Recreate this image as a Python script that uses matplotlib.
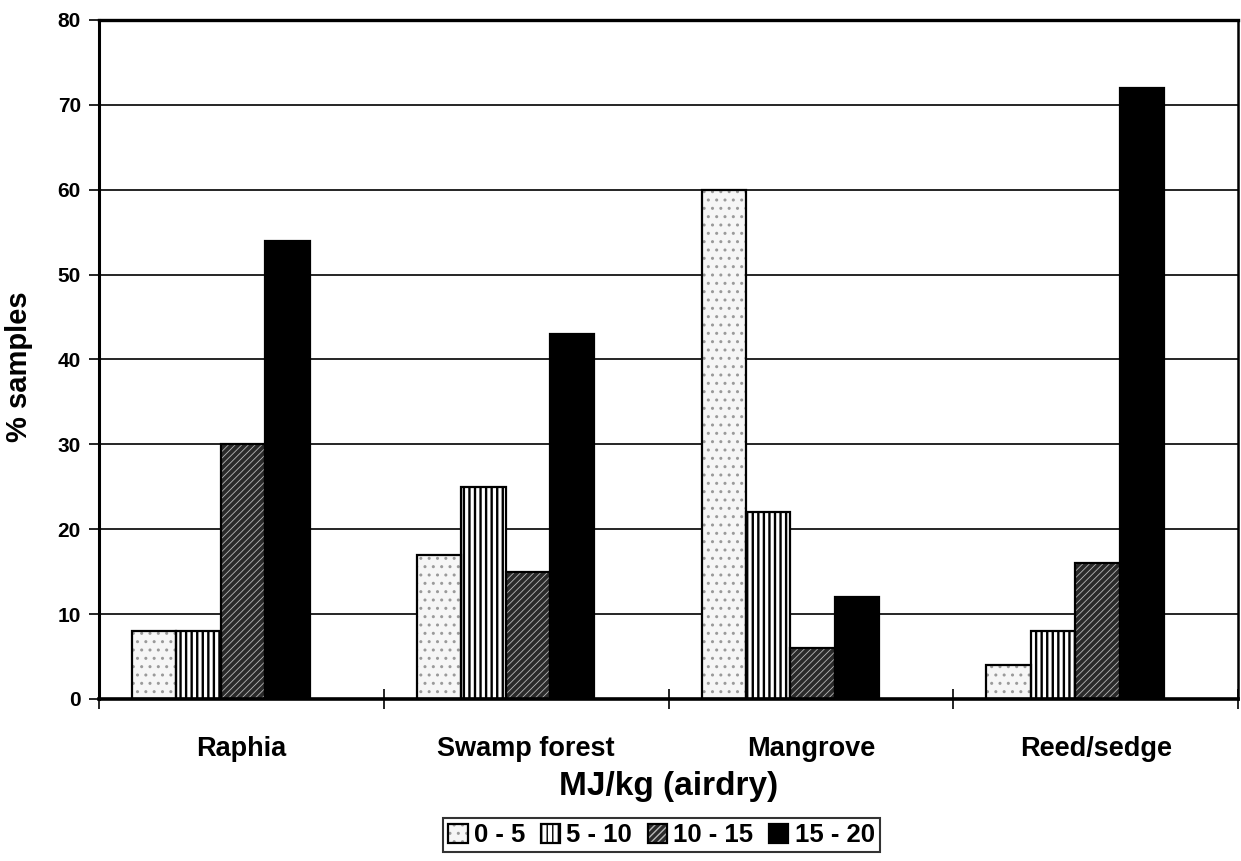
import matplotlib
matplotlib.use("Agg")
import matplotlib.pyplot as plt
import numpy as np

plt.rcParams['font.family'] = ['Liberation Sans', 'DejaVu Sans']
plt.rcParams['font.weight'] = 'bold'

categories = ['Raphia', 'Swamp forest', 'Mangrove', 'Reed/sedge']
series_names = ['0 - 5', '5 - 10', '10 - 15', '15 - 20']
s0_5 = [8, 17, 60, 4]
s5_10 = [8, 25, 22, 8]
s10_15 = [30, 15, 6, 16]
s15_20 = [54, 43, 12, 72]
yticks = [0, 10, 20, 30, 40, 50, 60, 70, 80]

# fill, hatch colour, hatch pattern, hatch line width
styles = [
    ('#f6f6f6', '#9a9a9a', '..', 1.0),
    ('white', 'black', '|||', 1.7),
    ('#2a2a2a', '#b8b8b8', '/////', 0.6),
    ('black', 'black', '', 1.0),
]

fig = plt.figure(figsize=(12.41, 8.61), dpi=100)
ax = fig.add_axes([0.0798, 0.1882, 0.9178, 0.7886])

x = np.arange(len(categories))
width = 0.156
start = -0.384

handles = []
for j, vals in enumerate([s0_5, s5_10, s10_15, s15_20]):
    face, hcol, hatch, hlw = styles[j]
    pos = x + start + width * (j + 0.5)
    with plt.rc_context({'hatch.linewidth': hlw}):
        b1 = ax.bar(pos, vals, width, color=face, edgecolor=hcol, hatch=hatch,
                    linewidth=0, zorder=2)
    b2 = ax.bar(pos, vals, width, fill=False, edgecolor='black', linewidth=1.6, zorder=3)
    handles.append((b1, b2))

ax.set_xlim(-0.5, 3.5)
ax.set_ylim(0, 80)
ax.set_yticks(yticks)
ax.yaxis.grid(True, color='black', linewidth=1.2)
ax.set_axisbelow(True)

ax.set_xticks(x)
ax.set_xticklabels(categories, fontsize=19.5, fontweight='bold')
ax.set_xticks(np.arange(-0.5, 4.0, 1.0), minor=True)
ax.tick_params(axis='x', which='major', length=0, pad=27)
ax.tick_params(axis='x', which='minor', length=14, direction='inout', width=1.2)
ax.tick_params(axis='y', length=7, width=1.2, labelsize=15, pad=6)
for lab in ax.get_yticklabels():
    lab.set_fontweight('bold')

ax.spines['left'].set_linewidth(2.2)
ax.spines['bottom'].set_linewidth(2.6)
ax.spines['top'].set_linewidth(2.4)
ax.spines['right'].set_linewidth(1.8)

ax.set_xlabel('MJ/kg (airdry)', fontsize=24, fontweight='bold')
ax.xaxis.set_label_coords(0.5, -0.106)
ax.set_ylabel('% samples', fontsize=21, fontweight='bold')
ax.yaxis.set_label_coords(-0.058, 0.49)

leg = fig.legend(handles, series_names, loc='center', bbox_to_anchor=(0.533, 0.030),
                 ncol=4, prop={'weight': 'bold', 'size': 18.5},
                 frameon=True, fancybox=False, edgecolor='black',
                 handlelength=0.75, handleheight=0.75, handletextpad=0.25,
                 columnspacing=0.6, borderpad=0.2, borderaxespad=0)
leg.get_frame().set_linewidth(1.5)

fig.savefig('out.png', dpi=100)
